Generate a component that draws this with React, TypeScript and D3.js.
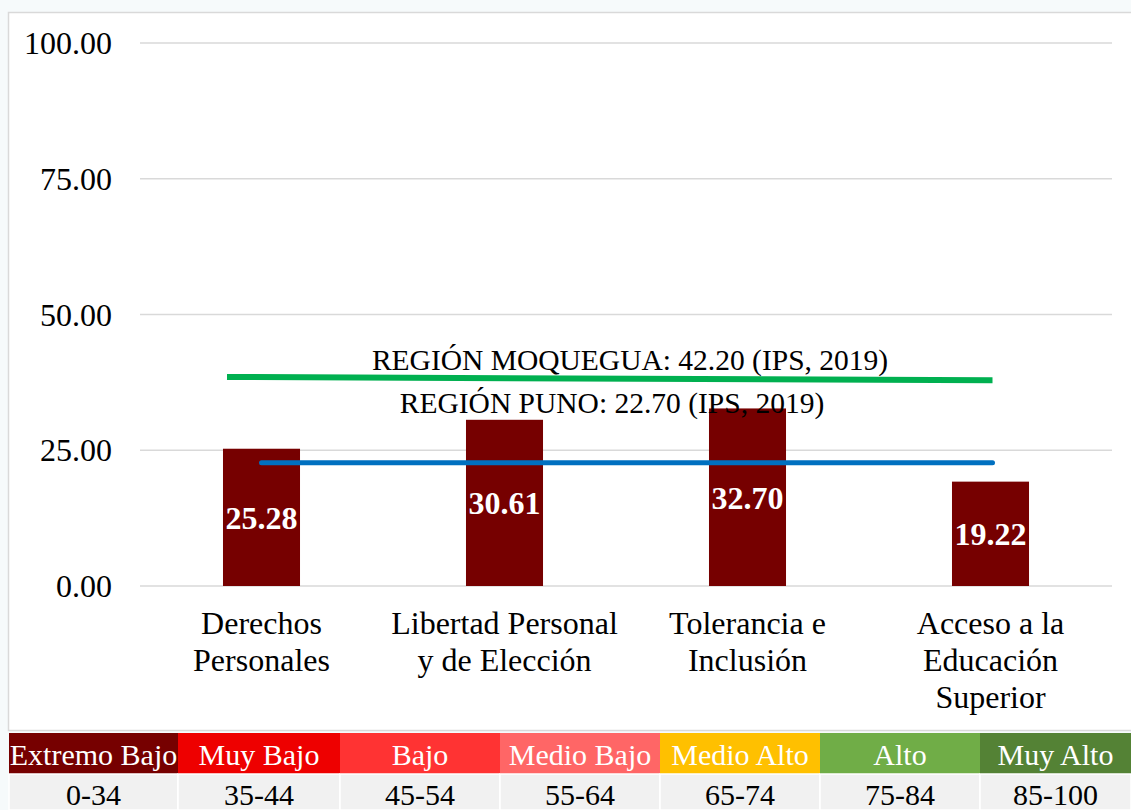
import React, { useEffect } from 'react'
import { scaleLinear, scaleBand, line } from 'd3'

const WIDTH = 1131
const HEIGHT = 810

const categories = [
  ['Derechos', 'Personales'],
  ['Libertad Personal', 'y de Elección'],
  ['Tolerancia e', 'Inclusión'],
  ['Acceso a la', 'Educación', 'Superior'],
]
const values = [25.28, 30.61, 32.7, 19.22]
const yTicks = [0, 25, 50, 75, 100]

// reference lines as drawn in the picture (start / end level)
const moqueguaLine = [38.5, 37.9]
const punoLine = [22.7, 22.7]
const moqueguaLabel = 'REGIÓN MOQUEGUA: 42.20 (IPS, 2019)'
const punoLabel = 'REGIÓN PUNO: 22.70 (IPS, 2019)'

const levelNames = ['Extremo Bajo', 'Muy Bajo', 'Bajo', 'Medio Bajo', 'Medio Alto', 'Alto', 'Muy Alto']
const levelRanges = ['0-34', '35-44', '45-54', '55-64', '65-74', '75-84', '85-100']
const levelColors = ['#760000', '#ee0000', '#ff3333', '#ff6666', '#ffc000', '#70ad47', '#548235']
const levelEdges = [9, 178, 340, 500, 660, 820, 980, 1131]

const FONT = '"Liberation Serif", "Times New Roman", serif'

const App = () => {
  useEffect(() => {
    document.body.style.margin = '0'
  }, [])

  const x = scaleBand<number>()
    .domain(values.map((_, i) => i))
    .range([140, 1112])
    .paddingInner(0.683)
    .paddingOuter(0.3415)
  const y = scaleLinear().domain([0, 100]).range([586, 43])

  const keys = values.map((_, i) => i)
  const first = keys[0]
  const last = keys[keys.length - 1]

  const refPath = line<[number, number]>()
    .x(d => d[0])
    .y(d => y(d[1]))

  const greenPts: [number, number][] = [
    [x(first)! + 4, moqueguaLine[0]],
    [x(last)! + x.bandwidth() / 2 + 2, moqueguaLine[1]],
  ]
  const bluePts: [number, number][] = [
    [x(first)! + x.bandwidth() / 2, punoLine[0]],
    [x(last)! + x.bandwidth() / 2 + 2, punoLine[1]],
  ]

  return (
    <svg width={WIDTH} height={HEIGHT} style={{ display: 'block', background: '#f6fafb' }} fontFamily={FONT}>
      <rect x={8.5} y={12.5} width={WIDTH} height={718} fill="white" stroke="#d9d9d9" strokeWidth={1.5} />

      <g data-grid>
        {yTicks.map(t => (
          <g key={t}>
            <line x1={140} x2={1112} y1={y(t)} y2={y(t)} stroke="#d9d9d9" strokeWidth={1.5} />
            <text x={112} y={y(t)} dy="0.35em" textAnchor="end" fontSize={32} fill="#000">
              {t.toFixed(2)}
            </text>
          </g>
        ))}
      </g>

      <g data-bars>
        {values.map((v, i) => (
          <g key={i}>
            <rect x={x(i)} y={y(v)} width={x.bandwidth()} height={y(0) - y(v)} fill="#760000" />
            <text
              x={x(i)! + x.bandwidth() / 2}
              y={(y(v) + y(0)) / 2}
              dy="0.36em"
              textAnchor="middle"
              fontSize={32}
              fontWeight="bold"
              fill="white"
            >
              {v.toFixed(2)}
            </text>
          </g>
        ))}
      </g>

      <g data-x-axis>
        {categories.map((lines, i) => (
          <text key={i} x={x(i)! + x.bandwidth() / 2} y={623} textAnchor="middle" fontSize={32} fill="#000">
            {lines.map((l, j) => (
              <tspan key={j} x={x(i)! + x.bandwidth() / 2} y={623 + j * 37} dy="0.35em">
                {l}
              </tspan>
            ))}
          </text>
        ))}
      </g>

      <path d={refPath(greenPts)!} stroke="#00b050" strokeWidth={6} fill="none" />
      <path d={refPath(bluePts)!} stroke="#0070c0" strokeWidth={5} strokeLinecap="round" fill="none" />

      <text x={630} y={360} dy="0.35em" textAnchor="middle" fontSize={29.5} fill="#000">
        {moqueguaLabel}
      </text>
      <text x={612} y={403} dy="0.35em" textAnchor="middle" fontSize={29.5} fill="#000">
        {punoLabel}
      </text>

      <g data-levels>
        {levelNames.map((name, i) => {
          const x0 = levelEdges[i]
          const w = levelEdges[i + 1] - x0
          return (
            <g key={name}>
              <rect x={x0} y={733} width={w} height={41} fill={levelColors[i]} />
              <text x={x0 + w / 2} y={754} dy="0.35em" textAnchor="middle" fontSize={30} fill="white">
                {name}
              </text>
              <rect x={x0} y={774} width={w} height={36} fill="#f1f1f1" stroke="white" strokeWidth={1.5} />
              <text x={x0 + w / 2} y={794} dy="0.35em" textAnchor="middle" fontSize={30} fill="#000">
                {levelRanges[i]}
              </text>
            </g>
          )
        })}
      </g>
    </svg>
  )
}

export default App
